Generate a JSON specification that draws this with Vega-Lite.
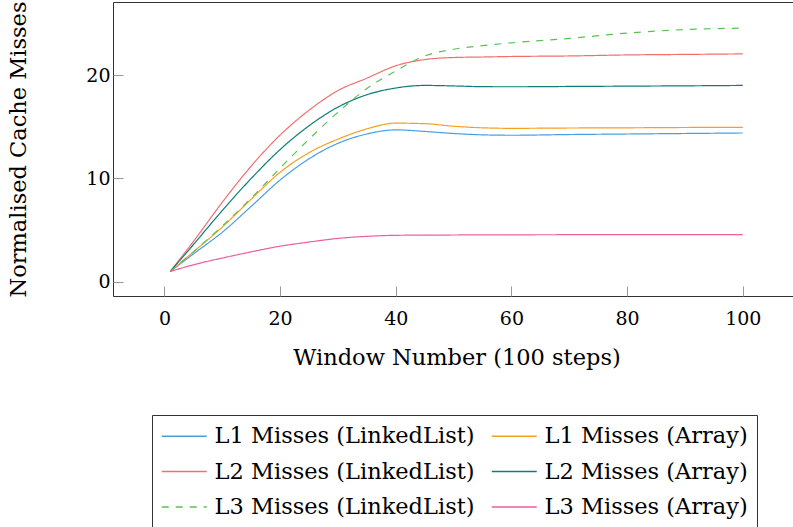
{
  "$schema": "https://vega.github.io/schema/vega-lite/v6.json",
  "autosize": "none",
  "width": 687,
  "height": 294,
  "padding": {"left": 113, "top": 2, "right": 0, "bottom": 231},
  "background": "white",
  "config": {
    "view": {"stroke": "#333", "strokeWidth": 1},
    "axis": {
      "labelFont": "DejaVu Serif",
      "labelFontSize": 19,
      "labelColor": "#000",
      "titleFont": "DejaVu Serif",
      "titleFontSize": 22.5,
      "titleFontWeight": "normal",
      "titleColor": "#000",
      "tickColor": "#999",
      "tickSize": -10,
      "domain": false,
      "grid": false
    },
    "legend": {
      "labelFont": "DejaVu Serif",
      "labelFontSize": 22.5,
      "labelColor": "#000",
      "labelLimit": 400
    }
  },
  "data": {
    "values": [
      {"x": 1, "y": 1, "s": "L1 Misses (LinkedList)"},
      {"x": 5, "y": 2.7, "s": "L1 Misses (LinkedList)"},
      {"x": 10, "y": 4.8, "s": "L1 Misses (LinkedList)"},
      {"x": 15, "y": 7.3, "s": "L1 Misses (LinkedList)"},
      {"x": 20, "y": 9.85, "s": "L1 Misses (LinkedList)"},
      {"x": 25, "y": 11.9, "s": "L1 Misses (LinkedList)"},
      {"x": 30, "y": 13.4, "s": "L1 Misses (LinkedList)"},
      {"x": 35, "y": 14.3, "s": "L1 Misses (LinkedList)"},
      {"x": 40, "y": 14.7, "s": "L1 Misses (LinkedList)"},
      {"x": 45, "y": 14.55, "s": "L1 Misses (LinkedList)"},
      {"x": 50, "y": 14.35, "s": "L1 Misses (LinkedList)"},
      {"x": 55, "y": 14.22, "s": "L1 Misses (LinkedList)"},
      {"x": 60, "y": 14.18, "s": "L1 Misses (LinkedList)"},
      {"x": 70, "y": 14.25, "s": "L1 Misses (LinkedList)"},
      {"x": 80, "y": 14.3, "s": "L1 Misses (LinkedList)"},
      {"x": 90, "y": 14.35, "s": "L1 Misses (LinkedList)"},
      {"x": 100, "y": 14.4, "s": "L1 Misses (LinkedList)"},

      {"x": 1, "y": 1, "s": "L1 Misses (Array)"},
      {"x": 5, "y": 2.9, "s": "L1 Misses (Array)"},
      {"x": 10, "y": 5.3, "s": "L1 Misses (Array)"},
      {"x": 15, "y": 8.0, "s": "L1 Misses (Array)"},
      {"x": 20, "y": 10.6, "s": "L1 Misses (Array)"},
      {"x": 25, "y": 12.5, "s": "L1 Misses (Array)"},
      {"x": 30, "y": 13.8, "s": "L1 Misses (Array)"},
      {"x": 35, "y": 14.8, "s": "L1 Misses (Array)"},
      {"x": 40, "y": 15.35, "s": "L1 Misses (Array)"},
      {"x": 45, "y": 15.3, "s": "L1 Misses (Array)"},
      {"x": 50, "y": 15.05, "s": "L1 Misses (Array)"},
      {"x": 55, "y": 14.9, "s": "L1 Misses (Array)"},
      {"x": 60, "y": 14.85, "s": "L1 Misses (Array)"},
      {"x": 70, "y": 14.88, "s": "L1 Misses (Array)"},
      {"x": 80, "y": 14.9, "s": "L1 Misses (Array)"},
      {"x": 90, "y": 14.93, "s": "L1 Misses (Array)"},
      {"x": 100, "y": 14.95, "s": "L1 Misses (Array)"},

      {"x": 1, "y": 1, "s": "L2 Misses (LinkedList)"},
      {"x": 5, "y": 3.9, "s": "L2 Misses (LinkedList)"},
      {"x": 10, "y": 7.7, "s": "L2 Misses (LinkedList)"},
      {"x": 15, "y": 11.2, "s": "L2 Misses (LinkedList)"},
      {"x": 20, "y": 14.2, "s": "L2 Misses (LinkedList)"},
      {"x": 25, "y": 16.6, "s": "L2 Misses (LinkedList)"},
      {"x": 30, "y": 18.5, "s": "L2 Misses (LinkedList)"},
      {"x": 35, "y": 19.7, "s": "L2 Misses (LinkedList)"},
      {"x": 40, "y": 20.9, "s": "L2 Misses (LinkedList)"},
      {"x": 45, "y": 21.5, "s": "L2 Misses (LinkedList)"},
      {"x": 50, "y": 21.7, "s": "L2 Misses (LinkedList)"},
      {"x": 55, "y": 21.75, "s": "L2 Misses (LinkedList)"},
      {"x": 60, "y": 21.8, "s": "L2 Misses (LinkedList)"},
      {"x": 70, "y": 21.85, "s": "L2 Misses (LinkedList)"},
      {"x": 80, "y": 21.95, "s": "L2 Misses (LinkedList)"},
      {"x": 90, "y": 22.0, "s": "L2 Misses (LinkedList)"},
      {"x": 100, "y": 22.05, "s": "L2 Misses (LinkedList)"},

      {"x": 1, "y": 1, "s": "L2 Misses (Array)"},
      {"x": 5, "y": 3.6, "s": "L2 Misses (Array)"},
      {"x": 10, "y": 6.9, "s": "L2 Misses (Array)"},
      {"x": 15, "y": 10.0, "s": "L2 Misses (Array)"},
      {"x": 20, "y": 12.8, "s": "L2 Misses (Array)"},
      {"x": 25, "y": 15.1, "s": "L2 Misses (Array)"},
      {"x": 30, "y": 16.9, "s": "L2 Misses (Array)"},
      {"x": 35, "y": 18.1, "s": "L2 Misses (Array)"},
      {"x": 40, "y": 18.75, "s": "L2 Misses (Array)"},
      {"x": 45, "y": 19.0, "s": "L2 Misses (Array)"},
      {"x": 50, "y": 18.95, "s": "L2 Misses (Array)"},
      {"x": 55, "y": 18.88, "s": "L2 Misses (Array)"},
      {"x": 60, "y": 18.87, "s": "L2 Misses (Array)"},
      {"x": 70, "y": 18.9, "s": "L2 Misses (Array)"},
      {"x": 80, "y": 18.93, "s": "L2 Misses (Array)"},
      {"x": 90, "y": 18.96, "s": "L2 Misses (Array)"},
      {"x": 100, "y": 19.0, "s": "L2 Misses (Array)"},

      {"x": 1, "y": 1, "s": "L3 Misses (LinkedList)"},
      {"x": 5, "y": 2.9, "s": "L3 Misses (LinkedList)"},
      {"x": 10, "y": 5.4, "s": "L3 Misses (LinkedList)"},
      {"x": 15, "y": 8.1, "s": "L3 Misses (LinkedList)"},
      {"x": 20, "y": 11.0, "s": "L3 Misses (LinkedList)"},
      {"x": 25, "y": 13.8, "s": "L3 Misses (LinkedList)"},
      {"x": 30, "y": 16.4, "s": "L3 Misses (LinkedList)"},
      {"x": 35, "y": 18.7, "s": "L3 Misses (LinkedList)"},
      {"x": 40, "y": 20.4, "s": "L3 Misses (LinkedList)"},
      {"x": 45, "y": 21.85, "s": "L3 Misses (LinkedList)"},
      {"x": 50, "y": 22.5, "s": "L3 Misses (LinkedList)"},
      {"x": 55, "y": 22.85, "s": "L3 Misses (LinkedList)"},
      {"x": 60, "y": 23.12, "s": "L3 Misses (LinkedList)"},
      {"x": 70, "y": 23.55, "s": "L3 Misses (LinkedList)"},
      {"x": 80, "y": 24.06, "s": "L3 Misses (LinkedList)"},
      {"x": 90, "y": 24.4, "s": "L3 Misses (LinkedList)"},
      {"x": 100, "y": 24.54, "s": "L3 Misses (LinkedList)"},

      {"x": 1, "y": 1, "s": "L3 Misses (Array)"},
      {"x": 5, "y": 1.65, "s": "L3 Misses (Array)"},
      {"x": 10, "y": 2.3, "s": "L3 Misses (Array)"},
      {"x": 15, "y": 2.9, "s": "L3 Misses (Array)"},
      {"x": 20, "y": 3.45, "s": "L3 Misses (Array)"},
      {"x": 25, "y": 3.85, "s": "L3 Misses (Array)"},
      {"x": 30, "y": 4.2, "s": "L3 Misses (Array)"},
      {"x": 35, "y": 4.4, "s": "L3 Misses (Array)"},
      {"x": 40, "y": 4.5, "s": "L3 Misses (Array)"},
      {"x": 45, "y": 4.52, "s": "L3 Misses (Array)"},
      {"x": 50, "y": 4.53, "s": "L3 Misses (Array)"},
      {"x": 55, "y": 4.55, "s": "L3 Misses (Array)"},
      {"x": 60, "y": 4.55, "s": "L3 Misses (Array)"},
      {"x": 70, "y": 4.56, "s": "L3 Misses (Array)"},
      {"x": 80, "y": 4.57, "s": "L3 Misses (Array)"},
      {"x": 90, "y": 4.57, "s": "L3 Misses (Array)"},
      {"x": 100, "y": 4.57, "s": "L3 Misses (Array)"}
    ]
  },
  "mark": {"type": "line", "interpolate": "monotone", "strokeWidth": 1.2},
  "encoding": {
    "x": {
      "field": "x",
      "type": "quantitative",
      "scale": {"domain": [-8.9, 109.9], "nice": false, "zero": false},
      "axis": {"values": [0, 20, 40, 60, 80, 100], "title": "Window Number (100 steps)", "labelPadding": 23, "titlePadding": 18}
    },
    "y": {
      "field": "y",
      "type": "quantitative",
      "scale": {"domain": [-1.37, 27.07], "nice": false, "zero": false},
      "axis": {"values": [0, 10, 20], "title": "Normalised Cache Misses", "labelPadding": 13, "titlePadding": 55}
    },
    "color": {
      "field": "s",
      "type": "nominal",
      "scale": {
        "domain": ["L1 Misses (LinkedList)", "L2 Misses (LinkedList)", "L3 Misses (LinkedList)", "L1 Misses (Array)", "L2 Misses (Array)", "L3 Misses (Array)"],
        "range": ["#4a9fe0", "#f07070", "#5cbf5c", "#f5a020", "#0d7d78", "#ec5fa0"]
      },
      "legend": {
        "title": null,
        "orient": "none",
        "legendX": 39,
        "legendY": 413,
        "columns": 2,
        "symbolType": "M-1,0H3",
        "symbolSize": 506,
        "symbolStrokeWidth": 1.4,
        "strokeColor": "#333",
        "padding": 9,
        "rowPadding": 11.5,
        "columnPadding": 13,
        "labelOffset": 29.5
      }
    },
    "strokeDash": {
      "field": "s",
      "type": "nominal",
      "scale": {
        "domain": ["L1 Misses (LinkedList)", "L2 Misses (LinkedList)", "L3 Misses (LinkedList)", "L1 Misses (Array)", "L2 Misses (Array)", "L3 Misses (Array)"],
        "range": [[1, 0], [1, 0], [7, 7], [1, 0], [1, 0], [1, 0]]
      },
      "legend": null
    }
  }
}
